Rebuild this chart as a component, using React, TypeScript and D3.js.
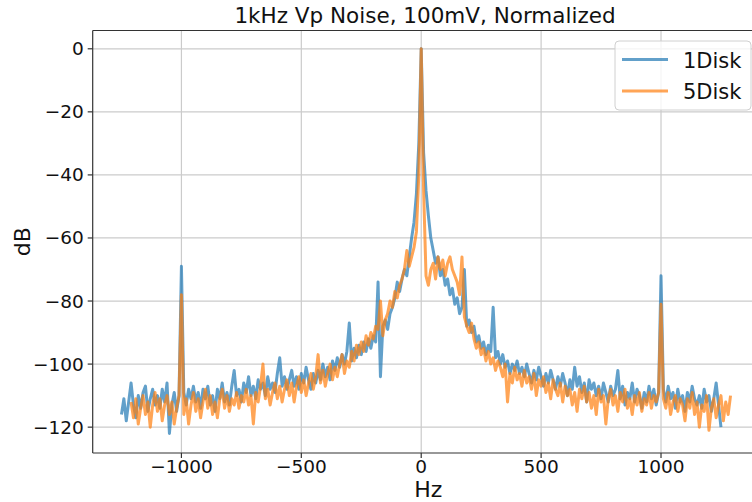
import React from 'react';
import * as d3 from 'd3';

const chartTitle = '1kHz Vp Noise, 100mV, Normalized';
const xLabel = 'Hz';
const yLabel = 'dB';
const xTicks = [-1000, -500, 0, 500, 1000];
const yTicks = [0, -20, -40, -60, -80, -100, -120];
const seriesNames = ['1Disk', '5Disk'];
const seriesColors = ['#1f77b4', '#ff7f0e'];

const stepHz = 10;
const disk1StartHz = -1250;
const disk5StartHz = -1210;

// 1Disk, -1250 Hz .. 1250 Hz, 10 Hz step (rows of 100 Hz)
const disk1 = [
  -116, -111, -118, -112, -106, -113, -117, -110, -114, -109,
  -107, -115, -111, -108, -113, -110, -114, -108, -112, -106,
  -122, -113, -109, -115, -110, -69, -109, -113, -108, -111,
  -107, -112, -109, -114, -108, -111, -107, -113, -110, -115,
  -108, -111, -106, -112, -109, -113, -107, -102, -110, -108,
  -112, -106, -109, -104, -110, -107, -111, -105, -108, -106,
  -110, -104, -108, -106, -109, -103, -98, -107, -104, -108,
  -105, -102, -107, -104, -108, -103, -106, -101, -105, -108,
  -103, -106, -102, -105, -100, -104, -101, -105, -99, -102,
  -98, -101, -97, -100, -96, -87, -99, -95, -98, -94,
  -97, -93, -96, -92, -95, -91, -93, -74, -104, -88,
  -86, -89, -84, -82, -79, -74, -77, -73, -70, -72,
  -66, -60, -55, -46, -30, 0, -33, -45, -53, -60,
  -64, -68, -66, -72, -70, -75, -73, -78, -76, -81,
  -79, -84, -82, -70, -88, -86, -90, -88, -93, -91,
  -95, -93, -97, -94, -96, -82, -98, -96, -100, -97,
  -101, -99, -103, -100, -102, -99, -103, -101, -104, -100,
  -103, -106, -102, -105, -101, -104, -107, -103, -106, -102,
  -105, -108, -104, -107, -103, -106, -110, -105, -108, -101,
  -107, -104, -109, -106, -112, -105, -108, -106, -110, -107,
  -111, -106, -109, -112, -107, -110, -108, -102, -111, -107,
  -113, -109, -111, -106, -112, -108, -110, -114, -109, -112,
  -107, -111, -108, -113, -109, -72, -108, -112, -107, -111,
  -109, -114, -108, -112, -110, -115, -109, -112, -107, -111,
  -113, -110, -114, -108, -112, -110, -115, -111, -106, -113,
  -120,
];

// 5Disk, -1210 Hz .. 1290 Hz, 10 Hz step (rows of 100 Hz)
const disk5 = [
  -112, -117, -111, -119, -114, -110, -116, -112, -120, -113,
  -109, -115, -111, -118, -113, -110, -116, -112, -119, -114,
  -110, -78, -116, -111, -119, -113, -109, -115, -111, -117,
  -112, -108, -114, -110, -116, -112, -117, -111, -108, -114,
  -110, -115, -111, -113, -109, -114, -110, -112, -108, -113,
  -110, -119, -109, -112, -107, -100, -111, -108, -113, -109,
  -106, -111, -107, -112, -108, -105, -110, -106, -112, -107,
  -104, -109, -105, -110, -106, -103, -108, -104, -97, -106,
  -102, -107, -103, -100, -105, -101, -104, -100, -97, -103,
  -99, -101, -96, -99, -94, -97, -93, -96, -91, -94,
  -90, -92, -88, -89, -80, -91, -86, -84, -80, -82,
  -77, -79, -75, -73, -70, -64, -69, -66, -63, -58,
  -40, 0, -45, -72, -75, -70, -68, -73, -66, -70,
  -67, -72, -68, -66, -70, -72, -74, -78, -66, -85,
  -88, -90, -87, -92, -95, -93, -97, -95, -99, -96,
  -100, -98, -102, -99, -101, -104, -100, -112, -103, -106,
  -101, -105, -103, -107, -102, -106, -104, -108, -103, -110,
  -105, -107, -104, -109, -106, -111, -105, -108, -110, -106,
  -112, -107, -110, -108, -113, -109, -115, -108, -111, -107,
  -112, -109, -114, -110, -116, -108, -112, -110, -119, -111,
  -108, -113, -110, -115, -109, -112, -108, -114, -111, -116,
  -110, -113, -109, -115, -111, -113, -109, -114, -110, -112,
  -109, -81, -111, -114, -109, -116, -112, -110, -115, -111,
  -113, -118, -111, -114, -109, -116, -112, -120, -113, -115,
  -110, -121, -114, -111, -117, -113, -110, -118, -112, -116,
  -110,
];

const FONT = 'DejaVu Sans, Verdana, sans-serif';

export default function App() {
  const W = 752;
  const H = 502;
  const left = 92.7;
  const right = 761;
  const top = 30.5;
  const bottom = 453;

  const x = d3.scaleLinear().domain([-1370, 1417]).range([left, right]);
  const y = d3.scaleLinear().domain([5.8, -128.2]).range([top, bottom]);

  const toPts = (vals: number[], start: number) =>
    vals.map((v, i) => [start + i * stepHz, v] as [number, number]);

  const series = [toPts(disk1, disk1StartHz), toPts(disk5, disk5StartHz)];
  const line = d3
    .line<[number, number]>()
    .x((d) => x(d[0]))
    .y((d) => y(d[1]));

  const gridColor = '#cbcbcb';
  const spine = '#333';
  const txt = '#111';

  return (
    <svg
      width={W}
      height={H}
      style={{ position: 'absolute', left: 0, top: 0, background: '#fff' }}
      fontFamily={FONT}
    >
      <defs>
        <clipPath id="plotclip">
          <rect x={left} y={top} width={right - left} height={bottom - top} />
        </clipPath>
      </defs>
      <rect x={0} y={0} width={W} height={H} fill="#fff" />
      {/* grid */}
      {xTicks.map((t) => (
        <line key={'gx' + t} x1={x(t)} x2={x(t)} y1={top} y2={bottom} stroke={gridColor} strokeWidth={1.2} />
      ))}
      {yTicks.map((t) => (
        <line key={'gy' + t} x1={left} x2={right} y1={y(t)} y2={y(t)} stroke={gridColor} strokeWidth={1.2} />
      ))}
      {/* series */}
      <g clipPath="url(#plotclip)">
        {series.map((pts, i) => (
          <path
            key={seriesNames[i]}
            d={line(pts) || ''}
            fill="none"
            stroke={seriesColors[i]}
            strokeOpacity={0.7}
            strokeWidth={3}
            strokeLinejoin="round"
          />
        ))}
      </g>
      {/* spines */}
      <line x1={left} x2={left} y1={top} y2={bottom} stroke={spine} strokeWidth={1.2} />
      <line x1={left} x2={right} y1={bottom} y2={bottom} stroke={spine} strokeWidth={1.2} />
      <line x1={left} x2={right} y1={top} y2={top} stroke={spine} strokeWidth={1.2} />
      {/* ticks */}
      {xTicks.map((t) => (
        <g key={'tx' + t}>
          <line x1={x(t)} x2={x(t)} y1={bottom} y2={bottom + 5} stroke={spine} strokeWidth={1.2} />
          <text x={x(t)} y={bottom + 20} textAnchor="middle" fontSize={18.5} fill={txt}>
            {t < 0 ? '\u2212' + Math.abs(t) : String(t)}
          </text>
        </g>
      ))}
      {yTicks.map((t) => (
        <g key={'ty' + t}>
          <line x1={left - 5} x2={left} y1={y(t)} y2={y(t)} stroke={spine} strokeWidth={1.2} />
          <text x={left - 9} y={y(t) + 6.5} textAnchor="end" fontSize={18.5} fill={txt}>
            {t < 0 ? '\u2212' + Math.abs(t) : String(t)}
          </text>
        </g>
      ))}
      {/* labels */}
      <text x={(left + 752) / 2 + 6} y={497} textAnchor="middle" fontSize={22} fill={txt}>
        {xLabel}
      </text>
      <text
        transform={`translate(${30},${(top + bottom) / 2}) rotate(-90)`}
        textAnchor="middle"
        fontSize={22}
        fill={txt}
      >
        {yLabel}
      </text>
      <text x={425} y={23} textAnchor="middle" fontSize={21.5} fill={txt}>
        {chartTitle}
      </text>
      {/* legend */}
      <g>
        <rect x={615} y={41} width={136} height={69} rx={4} fill="#fff" fillOpacity={0.8} stroke="#d0d0d0" strokeWidth={1} />
        {seriesNames.map((n, i) => (
          <g key={'lg' + n}>
            <line
              x1={622}
              x2={668}
              y1={59.5 + i * 31.5}
              y2={59.5 + i * 31.5}
              stroke={seriesColors[i]}
              strokeOpacity={0.7}
              strokeWidth={3}
            />
            <text x={683} y={67.5 + i * 31.5} fontSize={21} fill={txt}>
              {n}
            </text>
          </g>
        ))}
      </g>
    </svg>
  );
}
